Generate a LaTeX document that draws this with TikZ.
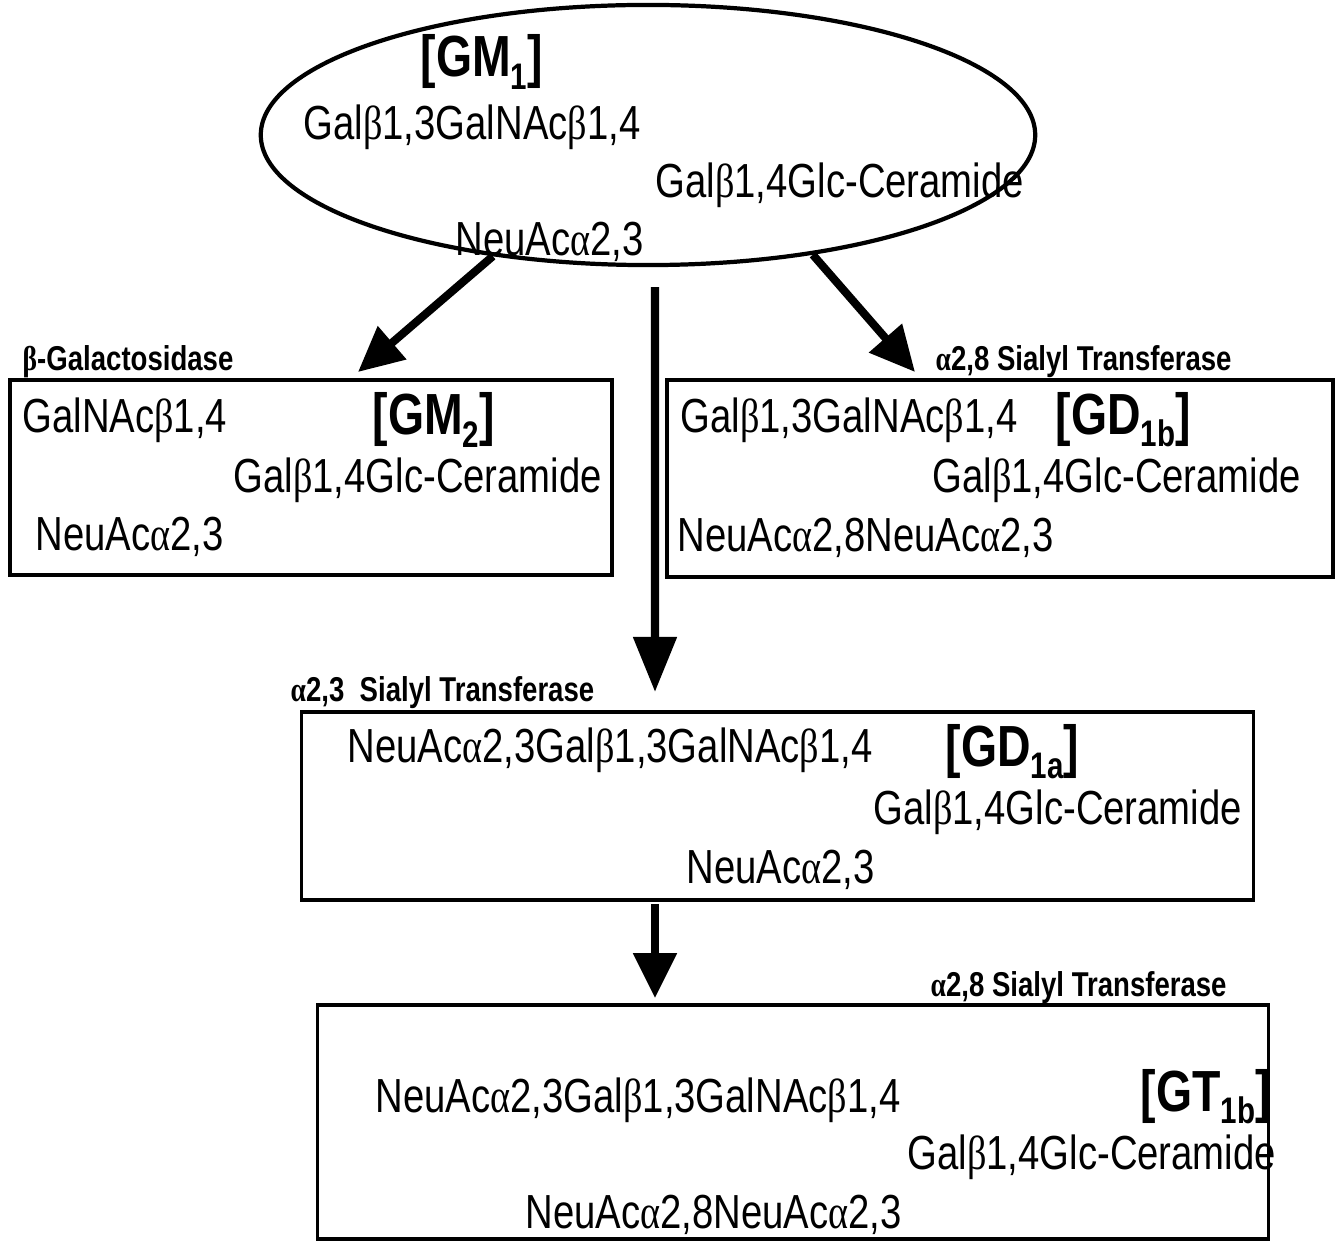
\documentclass[tikz,border=0pt]{standalone}
\usepackage{fontspec}
\setmainfont[FakeStretch=0.8]{Liberation Sans}
\newfontfamily\grkfont[FakeStretch=0.8]{Liberation Serif}
\usetikzlibrary{arrows.meta,shapes.geometric}
\newcommand{\bet}{{\grkfont β}}
\newcommand{\alp}{{\grkfont α}}
\newcommand{\gsub}[1]{\raisebox{-0.4ex}{\fontsize{10.5}{10.5}\selectfont #1}}

\begin{document}
\begin{tikzpicture}[x=0.01cm, y=-0.01cm,
  sugar/.style={inner sep=0pt, anchor=west, font=\fontsize{13.6}{15}\selectfont},
  gname/.style={inner sep=0pt, anchor=west, font=\bfseries\fontsize{16.5}{18}\selectfont},
  enzyme/.style={inner sep=0pt, anchor=west, font=\bfseries\fontsize{9.8}{11}\selectfont},
  molbox/.style={draw, line width=1pt, inner sep=0pt},
  bigarrow/.style={line width=2.3pt, -{Triangle[length=#1, width=0.42cm]}},
  bigarrow/.default=0.45cm]
\useasboundingbox (0,0) rectangle (1338,1243);
% GM1
\node [draw, ellipse, line width=1.2pt, minimum width=7.74cm, minimum height=2.6cm, inner sep=0pt] (gm1) at (648,135) {};
\node [gname] (gm1name) at (420,62) {[GM\gsub{1}]};
\node [sugar] (gm1a) at (303,127) {Gal\bet1,3GalNAc\bet1,4};
\node [sugar] (gm1b) at (655,185) {Gal\bet1,4Glc-Ceramide};
\node [sugar] (gm1c) at (455,242) {NeuAc\alp2,3};
% GM2
\node [molbox, minimum width=6.02cm, minimum height=1.95cm] (gm2) at (311,477.5) {};
\node [enzyme] (galase) at (22,362) {\bet-Galactosidase};
\node [sugar] (gm2a) at (22,420) {GalNAc\bet1,4};
\node [gname] (gm2name) at (372,420) {[GM\gsub{2}]};
\node [sugar] (gm2b) at (233,480) {Gal\bet1,4Glc-Ceramide};
\node [sugar] (gm2c) at (35,537) {NeuAc\alp2,3};
% GD1b
\node [molbox, minimum width=6.66cm, minimum height=1.97cm] (gd1b) at (1000,478.5) {};
\node [enzyme] (st8a) at (935,362) {\alp2,8 Sialyl Transferase};
\node [sugar] (gd1ba) at (680,420) {Gal\bet1,3GalNAc\bet1,4};
\node [gname] (gd1bname) at (1055,420) {[GD\gsub{1b}]};
\node [sugar] (gd1bb) at (932,480) {Gal\bet1,4Glc-Ceramide};
\node [sugar] (gd1bc) at (677,538) {NeuAc\alp2,8NeuAc\alp2,3};
% GD1a
\node [molbox, minimum width=9.51cm, minimum height=1.88cm] (gd1a) at (777.5,806) {};
\node [enzyme] (st3) at (290,693) {\alp2,3\ \ Sialyl Transferase};
\node [sugar] (gd1aa) at (347,750) {NeuAc\alp2,3Gal\bet1,3GalNAc\bet1,4};
\node [gname] (gd1aname) at (945,752) {[GD\gsub{1a}]};
\node [sugar] (gd1ab) at (873,812) {Gal\bet1,4Glc-Ceramide};
\node [sugar] (gd1ac) at (686,870) {NeuAc\alp2,3};
% GT1b
\node [molbox, minimum width=9.5cm, minimum height=2.34cm] (gt1b) at (793,1122) {};
\node [enzyme] (st8b) at (930,988) {\alp2,8 Sialyl Transferase};
\node [sugar] (gt1ba) at (375,1100) {NeuAc\alp2,3Gal\bet1,3GalNAc\bet1,4};
\node [gname] (gt1bname) at (1140,1097) {[GT\gsub{1b}]};
\node [sugar] (gt1bb) at (907,1157) {Gal\bet1,4Glc-Ceramide};
\node [sugar] (gt1bc) at (525,1215) {NeuAc\alp2,8NeuAc\alp2,3};
% arrows
\coordinate (gm2tip) at (358,372);
\coordinate (gd1btip) at (915,372);
\coordinate (gd1atip) at (655,692);
\draw [bigarrow] (gm1.218) -- (gm2tip);
\draw [bigarrow] (gm1.-36) -- (gd1btip);
\draw [bigarrow=0.55cm] ([xshift=0.07cm, yshift=-0.2cm]gm1.south) -- (gd1atip);
\draw [bigarrow] ([yshift=-0.02cm]gd1a.south -| gd1atip) -- ([yshift=0.05cm]gt1b.north -| gd1atip);
\end{tikzpicture}
\end{document}
